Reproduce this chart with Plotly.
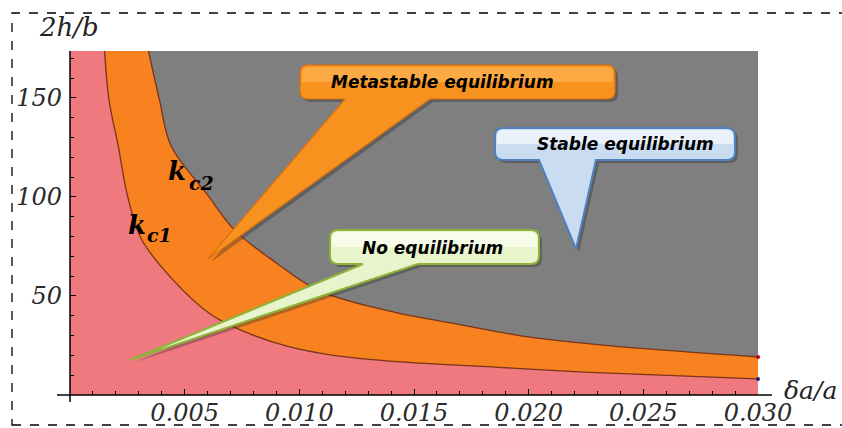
import plotly.graph_objects as go

# ---- data ----
x_kc1 = [0.0015, 0.0017, 0.0021, 0.0025, 0.0031, 0.0045, 0.0061, 0.0074, 0.0095, 0.0115, 0.0144, 0.0185, 0.0224, 0.0300]
y_kc1 = [175, 149, 126, 101, 79, 58, 41, 33, 24.5, 20, 16.7, 14.1, 11.6, 8.1]
x_kc2 = [0.0034, 0.0039, 0.0044, 0.0060, 0.0072, 0.0090, 0.0108, 0.0137, 0.0166, 0.0200, 0.0231, 0.0300]
y_kc2 = [175, 149, 126, 101, 83, 66.7, 53, 43, 36.4, 29.3, 25.3, 19.2]

x_tick_vals = [0.005, 0.010, 0.015, 0.020, 0.025, 0.030]
x_tick_text = ["0.005", "0.010", "0.015", "0.020", "0.025", "0.030"]
y_tick_vals = [50, 100, 150]
y_tick_text = ["50", "100", "150"]

x_max = 0.030
y_max = 173.7
# off-chart cap used only to close the fill regions above the visible top
cap_y = 230
cap_x1 = 0.0013
cap_x2 = 0.0030

PINK = "#F0787F"
ORANGE = "#F7821F"
GRAY = "#7F7F7F"
CURVE = "#7A3418"

# plot area in pixels
L, R, T, B = 70, 758, 51, 395
W, H = 842, 428


def px(x, y):
    return (x - L) / (R - L), (B - y) / (B - T)


def pstr(x, y):
    a, b = px(x, y)
    return f"{a:.5f},{b:.5f}"


def callout(x0, y0, x1, y1, r, bl, br, tip, dx=0, dy=0):
    x0 += dx; x1 += dx; y0 += dy; y1 += dy; bl += dx; br += dx
    tx, ty = tip[0] + dx, tip[1] + dy
    s = "M" + pstr(x0 + r, y0)
    s += " L" + pstr(x1 - r, y0)
    s += " Q" + pstr(x1, y0) + " " + pstr(x1, y0 + r)
    s += " L" + pstr(x1, y1 - r)
    s += " Q" + pstr(x1, y1) + " " + pstr(x1 - r, y1)
    s += " L" + pstr(br, y1)
    s += " L" + pstr(tx, ty)
    s += " L" + pstr(bl, y1)
    s += " L" + pstr(x0 + r, y1)
    s += " Q" + pstr(x0, y1) + " " + pstr(x0, y1 - r)
    s += " L" + pstr(x0, y0 + r)
    s += " Q" + pstr(x0, y0) + " " + pstr(x0 + r, y0)
    s += " Z"
    return s


def rrect(x0, y0, x1, y1, r):
    s = "M" + pstr(x0 + r, y0)
    s += " L" + pstr(x1 - r, y0)
    s += " Q" + pstr(x1, y0) + " " + pstr(x1, y0 + r)
    s += " L" + pstr(x1, y1)
    s += " L" + pstr(x0, y1)
    s += " L" + pstr(x0, y0 + r)
    s += " Q" + pstr(x0, y0) + " " + pstr(x0 + r, y0)
    s += " Z"
    return s


fig = go.Figure()

# pink region (below kc1)
fig.add_trace(go.Scatter(x=[0.0, cap_x1] + x_kc1, y=[cap_y, cap_y] + y_kc1, mode="lines",
                         line=dict(width=0, shape="spline"), fill="tozeroy",
                         fillcolor=PINK, hoverinfo="skip", showlegend=False))
# orange band (between kc1 and kc2)
fig.add_trace(go.Scatter(x=[0.0, cap_x2] + x_kc2, y=[cap_y, cap_y] + y_kc2, mode="lines",
                         line=dict(width=0, shape="spline"), fill="tonexty",
                         fillcolor=ORANGE, hoverinfo="skip", showlegend=False))
# curve lines
fig.add_trace(go.Scatter(x=x_kc1, y=y_kc1, mode="lines",
                         line=dict(width=1.3, color=CURVE, shape="spline"),
                         hoverinfo="skip", showlegend=False))
fig.add_trace(go.Scatter(x=x_kc2, y=y_kc2, mode="lines",
                         line=dict(width=1.3, color=CURVE, shape="spline"),
                         hoverinfo="skip", showlegend=False))
fig.add_trace(go.Scatter(x=[x_kc2[-1], x_kc1[-1]], y=[y_kc2[-1], y_kc1[-1]], mode="markers",
                         marker=dict(size=4, color=["#C00000", "#1F1F7A"]),
                         cliponaxis=False, hoverinfo="skip", showlegend=False))

shapes = []
# callouts: (box x0,y0,x1,y1, radius, base-left, base-right, tip, fill, line, width, highlight)
callouts = [
    (300, 65, 615, 99, 8, 345, 430, (208, 259), "#F7921E", "#D9700F", 1.2, "rgba(255,190,100,0.55)"),
    (495, 128, 735, 160, 8, 539, 596, (576, 249), "#CADCF1", "#4F81BD", 2, "rgba(240,246,253,0.8)"),
    (330, 230, 539, 264, 8, 363, 418, (130, 360), "#E9F3CC", "#8DB33A", 2, "rgba(250,253,240,0.8)"),
]
for (x0, y0, x1, y1, r, bl, br, tip, fc, lc, lw, hl) in callouts:
    shapes.append(dict(type="path", xref="paper", yref="paper",
                       path=callout(x0, y0, x1, y1, r, bl, br, tip, 3, 3),
                       fillcolor="rgba(40,40,40,0.35)", line=dict(width=0)))
    shapes.append(dict(type="path", xref="paper", yref="paper",
                       path=callout(x0, y0, x1, y1, r, bl, br, tip),
                       fillcolor=fc, line=dict(width=lw, color=lc)))
    shapes.append(dict(type="path", xref="paper", yref="paper",
                       path=rrect(x0 + 2, y0 + 2, x1 - 2, (y0 + y1) / 2, r - 2),
                       fillcolor=hl, line=dict(width=0)))

# axis lines (extend past origin, Mathematica style)
ax0, ay0 = px(57, 395)
ax1, ay1 = px(772, 395)
shapes.append(dict(type="line", xref="paper", yref="paper", x0=ax0, y0=ay0, x1=ax1, y1=ay1,
                   line=dict(color="black", width=1.5)))
bx0, by0 = px(70, 402)
bx1, by1 = px(70, 51)
shapes.append(dict(type="line", xref="paper", yref="paper", x0=bx0, y0=by0, x1=bx1, y1=by1,
                   line=dict(color="black", width=1.5)))
# dashed frame
fx0, fy0 = px(12, 425)
fx1, fy1 = px(845, 13)
shapes.append(dict(type="rect", xref="paper", yref="paper", x0=fx0, y0=fy0, x1=fx1, y1=fy1,
                   line=dict(color="black", width=1.3, dash="dash")))

annotations = []


def ann(text, x, y, size, family, xanchor="center", color="black"):
    a, b = px(x, y)
    annotations.append(dict(text=text, x=a, y=b, xref="paper", yref="paper", showarrow=False,
                            xanchor=xanchor, yanchor="middle",
                            font=dict(size=size, family=family, color=color)))


SANS = "DejaVu Sans, Arial, sans-serif"
SERIF = "DejaVu Serif, Liberation Serif, serif"
ann("<b><i>Metastable equilibrium</i></b>", 442, 82, 17, SANS)
ann("<b><i>Stable equilibrium</i></b>", 625, 144, 17, SANS)
ann("<b><i>No equilibrium</i></b>", 432, 248, 17, SANS)
ann("<b><i>k</i></b>", 177, 171, 26, SERIF)
ann("<b><i>c2</i></b>", 201, 183, 19, SERIF)
ann("<b><i>k</i></b>", 137, 225, 26, SERIF)
ann("<b><i>c1</i></b>", 159, 235, 19, SERIF)
ann("<i>2h/b</i>", 69, 27, 26, SERIF, color="#222")
ann("<i>δa/a</i>", 782, 390, 25, SERIF, xanchor="left", color="#222")

TICKFONT = dict(family=SERIF, size=24, color="#2a2a2a", style="italic")
fig.update_layout(
    width=W, height=H,
    margin=dict(l=L, r=W - R, t=T, b=H - B, pad=0),
    paper_bgcolor="white", plot_bgcolor=GRAY,
    shapes=shapes, annotations=annotations,
    xaxis=dict(range=[0, x_max], showgrid=False, zeroline=False, showline=False, automargin=False,
               tickmode="array", tickvals=x_tick_vals, ticktext=x_tick_text,
               ticks="inside", ticklen=6, tickwidth=1.2, tickcolor="black",
               tickfont=TICKFONT, ticklabelstandoff=1,
               minor=dict(ticks="inside", dtick=0.001, tick0=0, ticklen=4, tickcolor="black",
                          showgrid=False)),
    yaxis=dict(range=[0, y_max], showgrid=False, zeroline=False, showline=False, automargin=False,
               tickmode="array", tickvals=y_tick_vals, ticktext=y_tick_text,
               ticks="inside", ticklen=6, tickwidth=1.2, tickcolor="black",
               tickfont=TICKFONT, ticklabelstandoff=7,
               minor=dict(ticks="inside", dtick=10, tick0=0, ticklen=4, tickcolor="black",
                          showgrid=False)),
)

fig.write_html("out.html", config={"displayModeBar": False},
               post_script="document.body.style.margin='0';")
